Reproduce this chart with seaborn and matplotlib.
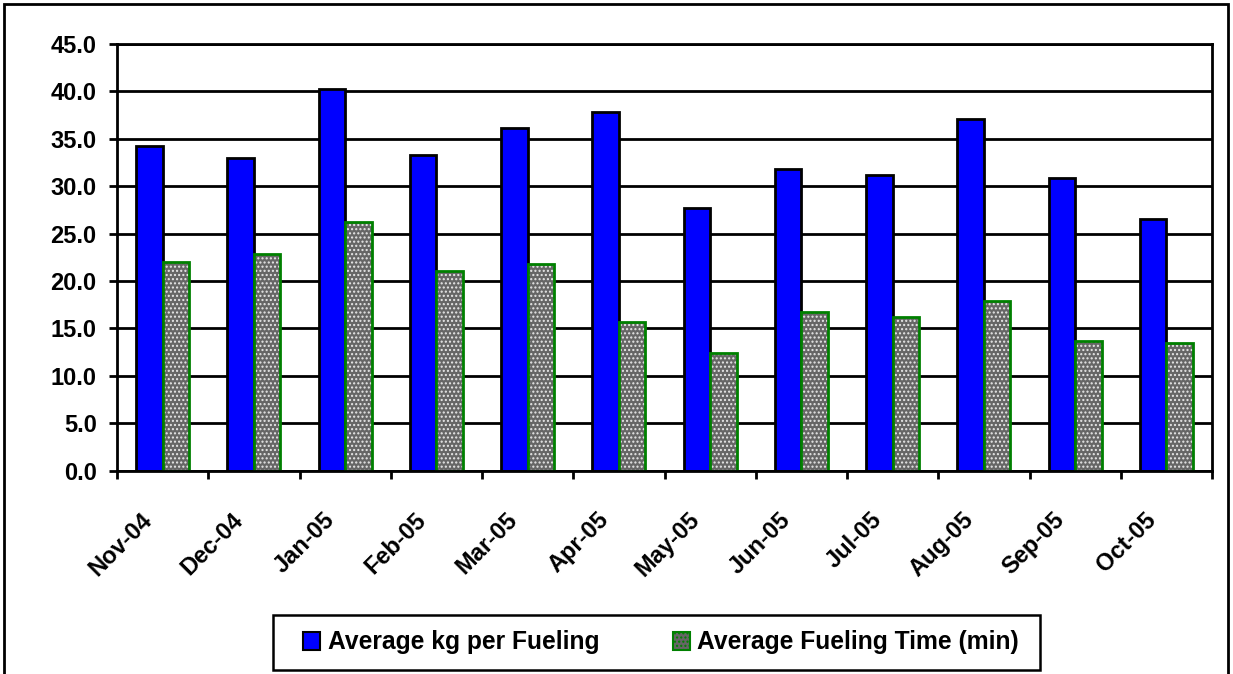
import matplotlib
matplotlib.use("Agg")
import matplotlib.pyplot as plt
import matplotlib.patches as mpatches
import matplotlib.transforms as mtransforms
import seaborn as sns
import pandas as pd
import numpy as np

months = ["Nov-04", "Dec-04", "Jan-05", "Feb-05", "Mar-05", "Apr-05",
          "May-05", "Jun-05", "Jul-05", "Aug-05", "Sep-05", "Oct-05"]
kg_per_fueling = [34.2, 33.0, 40.2, 33.3, 36.1, 37.8, 27.7, 31.8, 31.2, 37.1, 30.9, 26.5]
fueling_time = [22.0, 22.8, 26.2, 21.0, 21.8, 15.7, 12.4, 16.7, 16.2, 17.9, 13.7, 13.5]
series_names = ["Average kg per Fueling", "Average Fueling Time (min)"]
y_ticks = [0.0, 5.0, 10.0, 15.0, 20.0, 25.0, 30.0, 35.0, 40.0, 45.0]

df = pd.DataFrame({
    "month": months * 2,
    "series": [series_names[0]] * len(months) + [series_names[1]] * len(months),
    "value": kg_per_fueling + fueling_time,
})

sns.set_style("white")
plt.rcParams["font.family"] = ["Liberation Sans", "DejaVu Sans"]
plt.rcParams["font.weight"] = "bold"
plt.rcParams["hatch.linewidth"] = 1.0
for k in ["text.color", "axes.labelcolor", "xtick.color", "ytick.color"]:
    plt.rcParams[k] = "black"

W, H = 1233, 674
fig = plt.figure(figsize=(W / 100, H / 100), dpi=100)
ax = fig.add_axes([117 / W, 1 - 470.5 / H, (1212 - 117) / W, (470.5 - 44) / H])

BLUE = "#0000FF"
GREEN = "#008000"
GRAY = "#666666"

sns.barplot(data=df, x="month", y="value", hue="series", order=months,
            hue_order=series_names, palette=[BLUE, GRAY], width=0.58, gap=0,
            ax=ax, legend=False, saturation=1)

n = len(months)
for i, p in enumerate(ax.patches[:2 * n]):
    if i < n:
        p.set_facecolor(BLUE)
        p.set_edgecolor("black")
        p.set_linewidth(2)
    else:
        p.set_facecolor(GRAY)
        p.set_hatch("....")
        p.set_edgecolor("#e8e8e8")
        p.set_linewidth(0)
        r = mpatches.Rectangle(p.get_xy(), p.get_width(), p.get_height(),
                               fill=False, edgecolor=GREEN, linewidth=2,
                               zorder=p.get_zorder() + 0.1)
        ax.add_patch(r)

FS = 17
ax.set_ylim(0, 45)
ax.set_xlim(-0.5, n - 0.5)
ax.set_yticks(y_ticks)
ax.set_yticklabels([f"{v:.1f}" for v in y_ticks], fontsize=FS, fontweight="bold",
                   color="black")
ax.yaxis.grid(True, color="black", linewidth=2)
ax.set_axisbelow(True)
ax.tick_params(axis="y", length=6, width=2, pad=8.6, color="black", left=True)

ax.set_xticks(range(n))
ax.set_xticklabels(months, rotation=45, ha="right", va="center",
                   rotation_mode="anchor", fontsize=FS, fontweight="bold",
                   color="black")
ax.set_xticks(np.arange(-0.5, n, 1.0), minor=True)
ax.tick_params(axis="x", which="major", length=0, pad=33)
ax.tick_params(axis="x", which="minor", length=6, width=2, color="black", bottom=True)
for lbl in ax.get_xticklabels():
    lbl.set_transform(lbl.get_transform() +
                      mtransforms.ScaledTranslation(-14 / 100, 0, fig.dpi_scale_trans))

ax.set_xlabel("")
ax.set_ylabel("")
for s in ax.spines.values():
    s.set_visible(True)
    s.set_color("black")
    s.set_linewidth(2)

# Legend (frameless), with a separate box drawn in figure coordinates
h1 = mpatches.Patch(facecolor=BLUE, edgecolor="black", linewidth=1.5)
h2 = mpatches.Patch(facecolor=GRAY, edgecolor=GREEN, hatch="....", linewidth=1.5)
leg = fig.legend([h1, h2], series_names, loc="center",
                 bbox_to_anchor=(661 / W, 1 - 642.5 / H), ncol=2, frameon=False,
                 prop={"size": 17.7, "weight": "bold"}, handlelength=0.7,
                 handleheight=0.7, handletextpad=0.3, columnspacing=3.0,
                 borderpad=0, borderaxespad=0)
for t in leg.get_texts():
    t.set_color("black")
fig.patches.append(mpatches.Rectangle((273 / W, 1 - 670 / H), (1040 - 273) / W, 55 / H,
                                      transform=fig.transFigure, fill=False,
                                      edgecolor="black", linewidth=1.8))

# Outer figure border
fig.patches.append(mpatches.Rectangle((4 / W, -0.05), (1228 - 4) / W, 1.05 - 4 / H,
                                      transform=fig.transFigure, fill=False,
                                      edgecolor="black", linewidth=2))

fig.savefig("out.png", dpi=100)
